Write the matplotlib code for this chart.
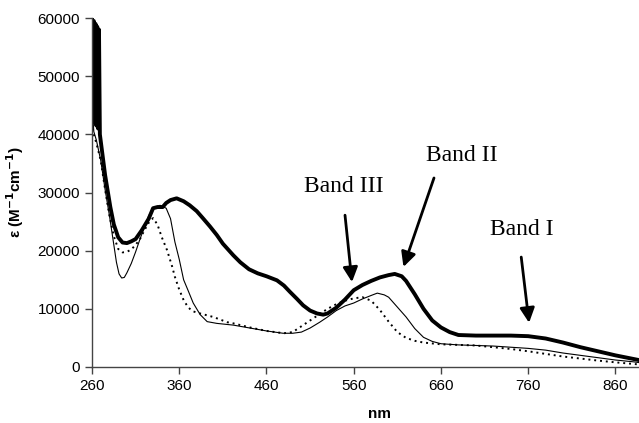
import matplotlib
matplotlib.use('Agg')
import matplotlib.pyplot as plt

# wavelength (nm) and epsilon (M-1 cm-1)
# thick curve
nm_a = [260, 261, 262, 263, 264, 265, 266, 267, 268, 269, 272, 275, 281, 285, 290,
        295, 300, 305, 310, 317, 325, 330, 335, 341, 345, 350, 357, 365, 372, 380,
        387, 395, 403, 410, 422, 430, 440, 450, 460, 472, 480, 487, 495, 502, 510,
        518, 525, 530, 540, 550, 560, 570, 580, 590, 600, 607, 615, 620, 630, 640,
        650, 660, 670, 680, 700, 720, 740, 760, 780, 800, 820, 840, 860, 880, 890]
eps_a = [60000, 43000, 59500, 42000, 59000, 41500, 58500, 41000, 58000, 40000, 36500, 33000, 27500, 24500, 22300,
         21400, 21300, 21600, 22000, 23500, 25500, 27300, 27500, 27500, 28200, 28700, 29000, 28500, 27800, 26800,
         25600, 24200, 22700, 21200, 19200, 18000, 16800, 16100, 15600, 14900, 14000, 12900, 11700, 10600, 9700,
         9200, 9000, 9200, 10200, 11600, 13200, 14100, 14800, 15400, 15800, 16000, 15600, 14800, 12500, 10000,
         8000, 6800, 6000, 5500, 5400, 5400, 5400, 5300, 4900, 4200, 3400, 2700, 2000, 1400, 1100]

# thin solid curve
nm_b = [261, 262, 265, 270, 275, 280, 285, 288, 291, 294, 297, 300, 305, 310, 315, 320, 325,
        330, 338, 345, 350, 355, 360, 365, 370, 376, 384, 392, 403, 422, 441, 460,
        479, 490, 500, 510, 521, 530, 540, 550, 560, 570, 580, 587, 595, 600, 610,
        620, 630, 640, 650, 660, 680, 700, 720, 740, 760, 780, 800, 820, 840, 860,
        880, 890]
eps_b = [43000, 40500, 39000, 35500, 30500, 26000, 21000, 18000, 16000, 15300, 15400, 16200, 17800, 19800, 22000, 24000, 26000,
         27300, 27800, 27300, 25500, 21500, 18500, 15000, 13200, 11000, 9000, 7800, 7500, 7200, 6700, 6200,
         5800, 5800, 6000, 6700, 7700, 8600, 9700, 10500, 11000, 11700, 12300, 12700, 12400, 12000, 10300,
         8600, 6600, 5100, 4400, 4000, 3800, 3700, 3600, 3400, 3200, 2900, 2400, 2000, 1600, 1200,
         900, 700]

# dotted curve
nm_c = [261, 262, 265, 270, 275, 280, 285, 290, 295, 300, 305, 310, 315, 320, 325,
        330, 335, 340, 346, 352, 355, 360, 365, 370, 375, 384, 399, 415, 422, 441,
        460, 480, 490, 500, 510, 520, 530, 540, 550, 560, 570, 580, 590, 600, 610,
        620, 630, 640, 660, 700, 740, 760, 800, 840, 860, 890]
eps_c = [41000, 40000, 38500, 35500, 30500, 26000, 22500, 20300, 19700, 19800, 20200, 21000, 22000, 23500, 24800,
         25600, 24500, 22300, 20100, 17200, 15500, 13300, 11500, 10300, 9600, 9200, 8600, 7700, 7500, 6800,
         6200, 5800, 6000, 7000, 8000, 9000, 10000, 10800, 11400, 11800, 12000, 11400, 9800, 7800, 6000,
         5000, 4500, 4200, 3900, 3700, 3100, 2700, 1800, 1100, 800, 400]

x_ticks = [260, 360, 460, 560, 660, 760, 860]
y_ticks = [0, 10000, 20000, 30000, 40000, 50000, 60000]

fig = plt.figure(figsize=(6.39, 4.23), dpi=100)
ax = fig.add_axes([0.144, 0.1324, 0.856, 0.825])

ax.plot(nm_c, eps_c, color='black', lw=1.4, linestyle=(0, (1, 2)))
ax.plot(nm_b, eps_b, color='black', lw=0.8)
ax.plot(nm_a, eps_a, color='black', lw=2.8, solid_joinstyle='round')

ax.set_xlim(260, 887)
ax.set_ylim(0, 60000)
ax.set_xticks(x_ticks)
ax.set_yticks(y_ticks)
ax.tick_params(direction='out', length=5, width=1, colors='#444444', labelcolor='black',
               labelsize=11)
for lab in ax.get_xticklabels() + ax.get_yticklabels():
    lab.set_fontfamily('Liberation Sans')
ax.spines['top'].set_visible(False)
ax.spines['right'].set_visible(False)
for s in ['left', 'bottom']:
    ax.spines[s].set_color('#444444')
    ax.spines[s].set_linewidth(1)

ax.set_xlabel('nm', fontfamily='Liberation Sans', fontweight='bold', fontsize=11)
ax.xaxis.set_label_coords(0.525, -0.115)
ax.set_ylabel(r'ε (M$^{\mathbf{-1}}$cm$^{\mathbf{-1}}$)', fontfamily='Liberation Sans',
              fontweight='bold', fontsize=11)
ax.yaxis.set_label_coords(-0.12, 0.5)

# band labels and arrows
arrow = dict(arrowstyle='-|>', color='black', lw=2, mutation_scale=22, shrinkA=0, shrinkB=0)
ax.text(549, 31100, 'Band III', fontfamily='Liberation Serif', fontsize=17, ha='center', va='center')
ax.annotate('', xy=(558, 14600), xytext=(550, 26100), arrowprops=arrow)
ax.text(684, 36400, 'Band II', fontfamily='Liberation Serif', fontsize=17, ha='center', va='center')
ax.annotate('', xy=(617, 17200), xytext=(652, 32500), arrowprops=arrow)
ax.text(753, 23700, 'Band I', fontfamily='Liberation Serif', fontsize=17, ha='center', va='center')
ax.annotate('', xy=(761, 7600), xytext=(752, 18900), arrowprops=arrow)

fig.savefig('out.png', dpi=100)
